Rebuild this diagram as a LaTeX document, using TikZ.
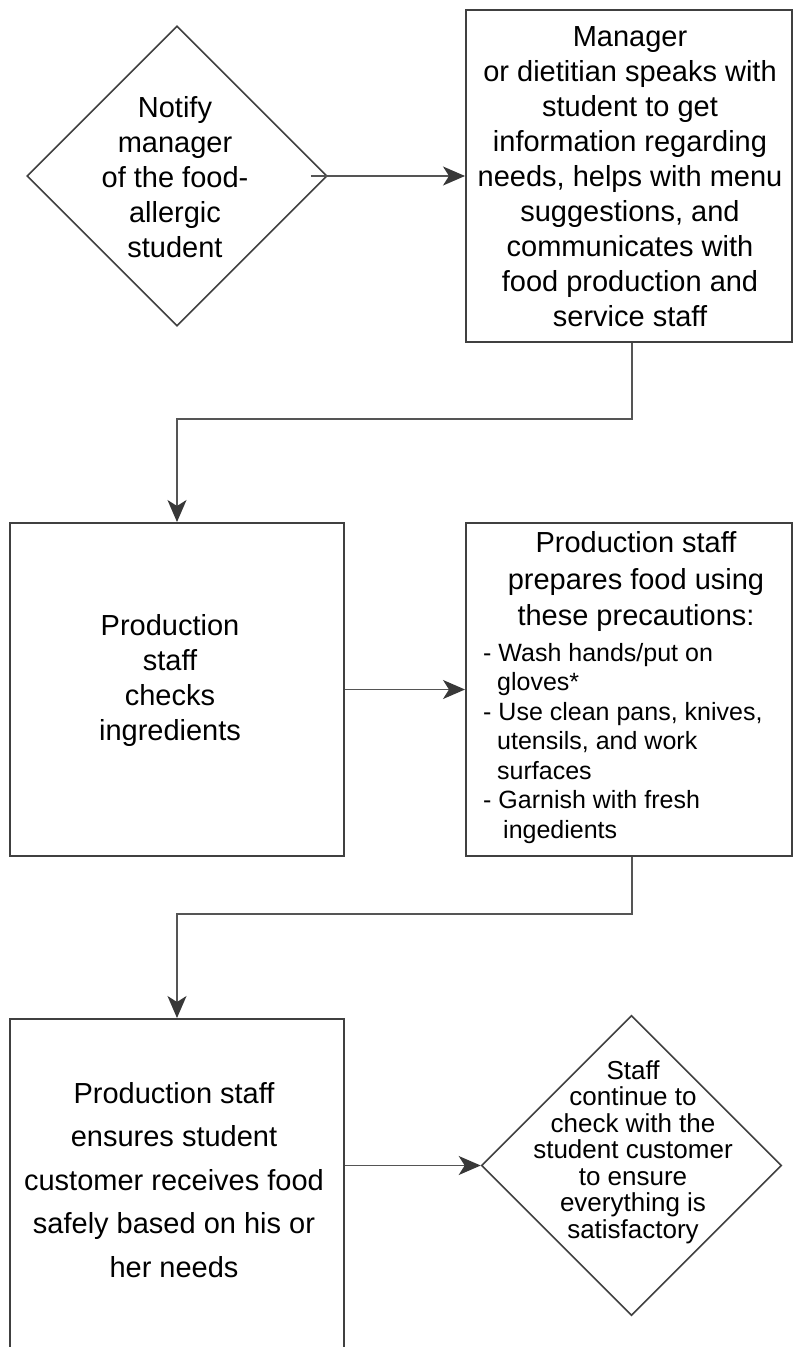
\documentclass[tikz,border=0pt]{standalone}
\usepackage{fontspec}
\setmainfont{Liberation Sans}
\usetikzlibrary{shapes.geometric,arrows.meta}
\definecolor{boxgray}{HTML}{404040}
\definecolor{linegray}{HTML}{555555}
\definecolor{tipgray}{HTML}{383838}
\begin{document}
\begin{tikzpicture}[x=1pt,y=-1pt,
  boxnode/.style={draw=boxgray, line width=2pt, rectangle, inner sep=0pt},
  dianode/.style={draw=boxgray, line width=1.6pt, diamond, aspect=1, inner sep=0pt, minimum width=300pt, minimum height=300pt},
  txt/.style={inner sep=0pt, align=center, font=\fontsize{29pt}{35pt}\selectfont},
  conn/.style={draw=linegray, line width=1.3pt, -{Stealth[length=22pt, width=19pt, inset=6pt, color=tipgray]}}
]
\clip (0,0) rectangle (793,1347);
\fill[white] (0,0) rectangle (793,1347);

% shapes
\node[dianode] (d1) at (177,176) {};
\node[boxnode, minimum width=326pt, minimum height=332pt] (b1) at (629,176) {};
\node[boxnode, minimum width=334pt, minimum height=333pt] (b2) at (177,689.5) {};
\node[boxnode, minimum width=326pt, minimum height=333pt] (b3) at (629,689.5) {};
\node[boxnode, minimum width=334pt, minimum height=333pt] (b4) at (177,1185.5) {};
\node[dianode] (d2) at (631.5,1165.5) {};

% texts
\node[txt] (t1) at (175,177) {Notify\\manager\\of the food-\\allergic\\student};
\node[txt] (t2) at (630,177) {Manager\\or dietitian speaks with\\student to get\\information regarding\\needs, helps with menu\\suggestions, and\\communicates with\\food production and\\service staff};
\node[txt] (t3) at (170,680) {Production\\staff\\checks\\ingredients};
\node[txt, font=\fontsize{29pt}{36.5pt}\selectfont] (t4a) at (636,581.5) {Production staff\\prepares food using\\these precautions:};
\node[txt, align=left, anchor=west, font=\fontsize{25pt}{29.5pt}\selectfont] (t4b) at (483,743.5) {- Wash hands/put on\\\hspace*{14pt}gloves*\\- Use clean pans, knives,\\\hspace*{14pt}utensils, and work\\\hspace*{14pt}surfaces\\- Garnish with fresh\\\hspace*{20pt}ingedients};
\node[txt, font=\fontsize{29pt}{43.5pt}\selectfont] (t5) at (174,1180) {Production staff\\ensures student\\customer receives food\\safely based on his or\\her needs};
\node[txt, font=\fontsize{26pt}{26.5pt}\selectfont] (t6) at (633,1152) {Staff\\continue to\\check with the\\student customer\\to ensure\\everything is\\satisfactory};

% connectors
\draw[conn] ([xshift=-17pt]d1.east) -- (b1.west);
\draw[conn] ([xshift=3pt]b1.south) -- ++(0,76) -| (b2.north);
\draw[conn] (b2.east) -- (b3.west);
\draw[conn] ([xshift=3pt]b3.south) -- ++(0,57) -| (b4.north);
\draw[conn] (b4.east |- d2.west) -- (d2.west);
\end{tikzpicture}
\end{document}
